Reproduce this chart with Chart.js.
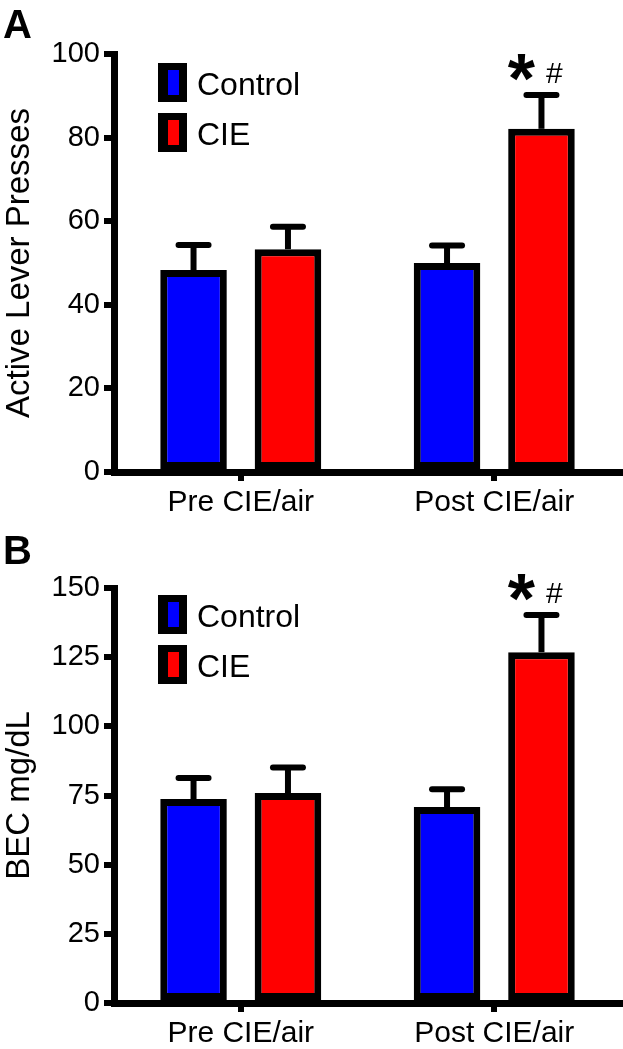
<!DOCTYPE html>
<html>
<head>
<meta charset="utf-8">
<script src="https://cdn.jsdelivr.net/npm/chart.js@4/dist/chart.umd.min.js"></script>
<style>
  html, body { margin: 0; padding: 0; background: #fff; }
  body { width: 623px; height: 1049px; position: relative; overflow: hidden; font-family: "Liberation Sans", Arial, sans-serif; }
  .panel { position: absolute; left: 0; width: 623px; }
  .plabel { position: absolute; left: 3px; font-weight: bold; font-size: 40px; line-height: 1; color: #000; z-index: 2; }
</style>
</head>
<body>
<div class="panel" style="top:0;height:525px;"><canvas id="chartA" width="623" height="525"></canvas></div>
<div class="panel" style="top:525px;height:524px;"><canvas id="chartB" width="623" height="524"></canvas></div>
<div class="plabel" style="top:4px;">A</div>
<div class="plabel" style="top:530px;">B</div>
<script>
// ---- data ----
const categories = ["Pre CIE/air", "Post CIE/air"];
const seriesNames = ["Control", "CIE"];

const leverControl = [48.3, 50.0];
const leverControlSEM = [6.0, 4.2];
const leverCIE = [53.3, 82.1];
const leverCIESEM = [5.4, 8.1];
const leverTicks = [0, 20, 40, 60, 80, 100];

const becControl = [73.7, 70.8];
const becControlSEM = [7.6, 6.5];
const becCIE = [75.9, 126.8];
const becCIESEM = [9.2, 13.4];
const becTicks = [0, 25, 50, 75, 100, 125, 150];

const sigMarks = ["*", "#"];
const sigIndex = 1; // Post CIE/air, CIE series

// ---- styling ----
Chart.defaults.font.family = '"Liberation Sans", Arial, sans-serif';
Chart.defaults.color = '#000';

const errorBarPlugin = {
  id: 'errorBars',
  afterDatasetsDraw(chart) {
    const ctx = chart.ctx;
    const y = chart.scales.y;
    chart.data.datasets.forEach((ds, di) => {
      const meta = chart.getDatasetMeta(di);
      meta.data.forEach((bar, i) => {
        const top = y.getPixelForValue(ds.data[i]);
        const cap = y.getPixelForValue(ds.data[i] + ds.sem[i]);
        ctx.save();
        ctx.strokeStyle = '#000';
        ctx.lineWidth = 6;
        ctx.lineCap = 'butt';
        ctx.beginPath();
        ctx.moveTo(bar.x, top);
        ctx.lineTo(bar.x, cap);
        ctx.stroke();
        ctx.lineCap = 'round';
        ctx.beginPath();
        ctx.moveTo(bar.x - 15, cap);
        ctx.lineTo(bar.x + 15, cap);
        ctx.stroke();
        ctx.restore();
      });
    });
  }
};

const legendPlugin = {
  id: 'boxLegend',
  afterDraw(chart, args, opts) {
    const ctx = chart.ctx;
    const ca = chart.chartArea;
    chart.data.datasets.forEach((ds, di) => {
      const bx = ca.left + 44;
      const by = ca.top + opts.offsetY + di * 50;
      ctx.save();
      ctx.fillStyle = '#000';
      ctx.fillRect(bx, by, 29, 39);
      ctx.fillStyle = ds.backgroundColor;
      ctx.fillRect(bx + 10, by + 7, 11, 25);
      ctx.fillStyle = '#000';
      ctx.font = '32px "Liberation Sans", Arial, sans-serif';
      ctx.textAlign = 'left';
      ctx.textBaseline = 'alphabetic';
      ctx.fillText(ds.label, bx + 39, by + 32);
      ctx.restore();
    });
  }
};

const sigPlugin = {
  id: 'sigMarks',
  afterDraw(chart) {
    const ctx = chart.ctx;
    const y = chart.scales.y;
    const ds = chart.data.datasets[1];
    const bar = chart.getDatasetMeta(1).data[sigIndex];
    const cap = y.getPixelForValue(ds.data[sigIndex] + ds.sem[sigIndex]);
    ctx.save();
    ctx.fillStyle = '#000';
    ctx.textAlign = 'center';
    ctx.textBaseline = 'alphabetic';
    ctx.font = 'bold 70px "Liberation Sans", Arial, sans-serif';
    ctx.fillText(sigMarks[0], bar.x - 20, cap + 8);
    ctx.font = '30px "Liberation Sans", Arial, sans-serif';
    ctx.fillText(sigMarks[1], bar.x + 13, cap - 12);
    ctx.restore();
  }
};

function makeChart(id, control, controlSEM, cie, cieSEM, ticks, yTitle, topPad, xHeight, legendOffset) {
  const maxV = ticks[ticks.length - 1];
  const step = ticks[1] - ticks[0];
  return new Chart(document.getElementById(id), {
    type: 'bar',
    data: {
      labels: categories,
      datasets: [
        { label: seriesNames[0], data: control, sem: controlSEM, backgroundColor: '#0000FF', borderColor: '#000', borderWidth: 7, borderSkipped: false },
        { label: seriesNames[1], data: cie, sem: cieSEM, backgroundColor: '#FF0000', borderColor: '#000', borderWidth: 7, borderSkipped: false }
      ]
    },
    options: {
      responsive: false,
      animation: false,
      events: [],
      datasets: { bar: { categoryPercentage: 0.745, barPercentage: 0.705 } },
      layout: { padding: { top: topPad, right: 2, left: 0, bottom: 0 } },
      plugins: {
        legend: { display: false },
        tooltip: { enabled: false },
        boxLegend: { offsetY: legendOffset }
      },
      scales: {
        x: {
          offset: true,
          grid: { display: true, offset: false, drawOnChartArea: false, drawTicks: true, tickLength: 9, lineWidth: 6, color: '#000' },
          border: { display: true, width: 7, color: '#000' },
          ticks: { font: { size: 30 }, padding: 4, color: '#000' },
          afterFit(s) { s.height = xHeight; }
        },
        y: {
          min: 0, max: maxV,
          grid: { display: true, drawOnChartArea: false, drawTicks: true, tickLength: 10, lineWidth: 6, color: '#000' },
          border: { display: true, width: 7, color: '#000' },
          ticks: { stepSize: step, font: { size: 29 }, padding: 4, color: '#000' },
          title: { display: true, text: yTitle, font: { size: 33 }, padding: { top: 0, bottom: 0 }, color: '#000' },
          afterFit(s) { s.width = 114; }
        }
      }
    },
    plugins: [errorBarPlugin, legendPlugin, sigPlugin]
  });
}

makeChart('chartA', leverControl, leverControlSEM, leverCIE, leverCIESEM, leverTicks, 'Active Lever Presses', 54, 53, 9);
makeChart('chartB', becControl, becControlSEM, becCIE, becCIESEM, becTicks, 'BEC mg/dL', 63, 46, 7);
</script>
</body>
</html>
